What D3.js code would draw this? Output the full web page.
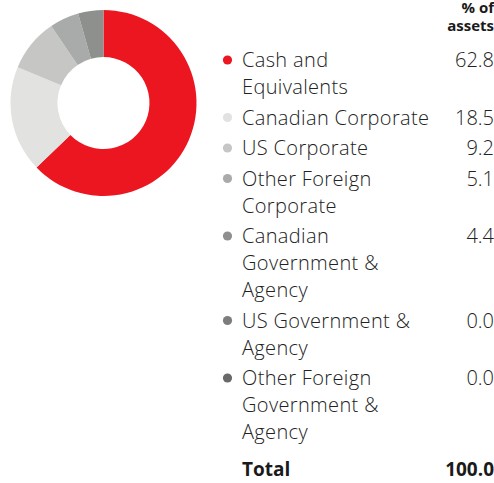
<!DOCTYPE html>
<html>
<head>
<meta charset="utf-8">
<script src="https://cdn.jsdelivr.net/npm/d3@7"></script>
<style>
  html, body { margin: 0; padding: 0; background: #fff; }
  svg { display: block; }
</style>
</head>
<body>
<svg id="chart" width="494" height="483"></svg>
<script>
// Asset allocation (% of assets)
const categories = [
  ["Cash and", "Equivalents"],
  ["Canadian Corporate"],
  ["US Corporate"],
  ["Other Foreign", "Corporate"],
  ["Canadian", "Government &", "Agency"],
  ["US Government &", "Agency"],
  ["Other Foreign", "Government &", "Agency"]
];
const values = [62.8, 18.5, 9.2, 5.1, 4.4, 0.0, 0.0];
const colors = ["#ec1620", "#e2e3e0", "#c6c7c4", "#a9abab", "#8e908d", "#7c7e7b", "#686a67"];
const headerLines = ["% of", "assets"];
const totalLabel = "Total";
const totalValue = 100.0;

const svg = d3.select("#chart");
const font = "'Open Sans', sans-serif";

// Donut
const cx = 103.5, cy = 103, outerR = 93, innerR = 46;
const pie = d3.pie().sort(null).value(d => d)(values);
const arc = d3.arc().innerRadius(innerR).outerRadius(outerR);
svg.append("g")
  .attr("transform", `translate(${cx},${cy})`)
  .selectAll("path")
  .data(pie)
  .join("path")
  .attr("d", arc)
  .attr("fill", (d, i) => colors[i]);

// Column header, two lines right-aligned
const rightX = 494;
svg.append("g")
  .selectAll("text")
  .data(headerLines)
  .join("text")
  .attr("x", rightX)
  .attr("y", (d, i) => 13 + i * 18)
  .attr("text-anchor", "end")
  .attr("font-family", font).attr("font-weight", 700)
  .attr("font-size", 15).attr("fill", "#1a1a1a")
  .text(d => d);

// Legend rows
const lineH = 27, itemGap = 30.5;
const textX = 242, dotX = 227.5;
let y = 67;
const rows = svg.append("g");
categories.forEach((lines, i) => {
  const g = rows.append("g");
  g.append("circle")
    .attr("cx", dotX).attr("cy", y - 7)
    .attr("r", 4.6)
    .attr("fill", colors[i]);
  g.append("text")
    .attr("x", textX).attr("y", y)
    .attr("font-family", font).attr("font-weight", 300)
    .attr("font-size", 20).attr("letter-spacing", 0.35).attr("fill", "#222")
    .selectAll("tspan")
    .data(lines)
    .join("tspan")
    .attr("x", textX)
    .attr("dy", (d, k) => k === 0 ? 0 : lineH)
    .text(d => d);
  g.append("text")
    .attr("x", rightX).attr("y", y)
    .attr("text-anchor", "end")
    .attr("font-family", font).attr("font-weight", 300)
    .attr("font-size", 20).attr("fill", "#222")
    .text(d3.format(".1f")(values[i]));
  y += (lines.length - 1) * lineH + itemGap;
});

// Total row
const totalY = 476;
svg.append("text")
  .attr("x", textX).attr("y", totalY)
  .attr("font-family", font).attr("font-weight", 700)
  .attr("font-size", 19).attr("fill", "#1a1a1a")
  .text(totalLabel);
svg.append("text")
  .attr("x", rightX).attr("y", totalY)
  .attr("text-anchor", "end")
  .attr("font-family", font).attr("font-weight", 700)
  .attr("font-size", 19).attr("fill", "#1a1a1a")
  .text(d3.format(".1f")(totalValue));
</script>
</body>
</html>
